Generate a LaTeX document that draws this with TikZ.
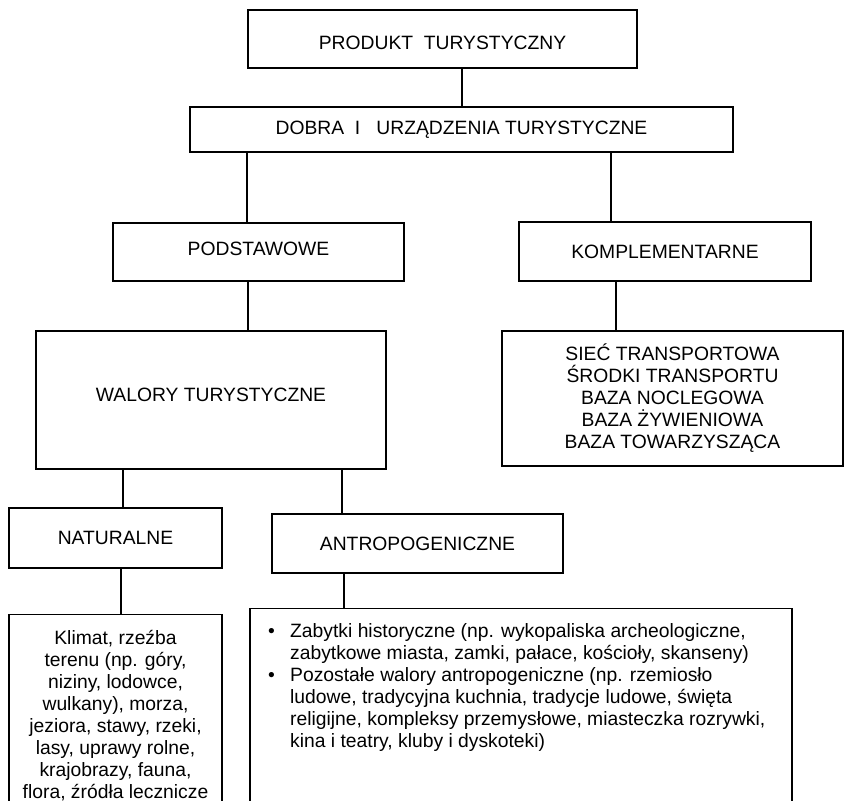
\documentclass[tikz,border=0pt]{standalone}
\usepackage{fontspec}
\setmainfont{Liberation Sans}
\begin{document}
\begin{tikzpicture}[x=1pt,y=-1pt,
  box/.style={draw, line width=1.3pt, rectangle, inner sep=0pt, align=center},
  conn/.style={line width=1.3pt},
  txt/.style={inner sep=0pt},
  every node/.style={font=\fontsize{19.3}{22}\selectfont}]
\useasboundingbox (0,0) rectangle (844,801);
\clip (0,0) rectangle (844,801);
\fill[white] (0,0) rectangle (844,801);

% boxes
\node[box, minimum width=389pt, minimum height=58pt, text height=21.8pt] (prod) at (442.5,39) {PRODUKT\ \ TURYSTYCZNY};
\node[box, minimum width=543pt, minimum height=45pt] (dobra) at (461.5,129.5) {DOBRA\ \ I\ \ \ URZĄDZENIA TURYSTYCZNE};
\node[box, minimum width=291pt, minimum height=58pt, text depth=6pt] (podst) at (258.5,252) {PODSTAWOWE};
\node[box, minimum width=292pt, minimum height=59pt] (kompl) at (665,251.5) {KOMPLEMENTARNE};
\node[box, minimum width=350pt, minimum height=138pt, text depth=10pt] (walory) at (211,400) {WALORY TURYSTYCZNE};
\node[box, minimum width=341pt, minimum height=135pt] (klist) at (672.5,398.5)
  {SIEĆ TRANSPORTOWA\\ŚRODKI TRANSPORTU\\BAZA NOCLEGOWA\\BAZA ŻYWIENIOWA\\BAZA TOWARZYSZĄCA};
\node[box, minimum width=213pt, minimum height=60pt] (natur) at (115.5,538) {NATURALNE};
\node[box, minimum width=291pt, minimum height=59pt] (antro) at (417.5,543.5) {ANTROPOGENICZNE};
\node[box, minimum width=213pt, minimum height=220pt, anchor=north] (klimat) at (115.5,614) {};
\node[box, minimum width=542pt, minimum height=220pt, anchor=north] (alist) at (521,608) {};

% texts of the open boxes
\node[txt, anchor=north, align=center] (klimattxt) at (115.5,630)
  {Klimat, rzeźba\\terenu (np. góry,\\niziny, lodowce,\\wulkany), morza,\\jeziora, stawy, rzeki,\\lasy, uprawy rolne,\\krajobrazy, fauna,\\flora, źródła lecznicze};
\node[txt, anchor=north west, align=left] (alisttxt) at (268,622)
  {\begin{tabular}{@{}l@{}l@{}}
   \makebox[22pt][l]{\textbullet} & Zabytki historyczne (np. wykopaliska archeologiczne,\\
   & zabytkowe miasta, zamki, pałace, kościoły, skanseny)\\
   \makebox[22pt][l]{\textbullet} & Pozostałe walory antropogeniczne (np. rzemiosło\\
   & ludowe, tradycyjna kuchnia, tradycje ludowe, święta\\
   & religijne, kompleksy przemysłowe, miasteczka rozrywki,\\
   & kina i teatry, kluby i dyskoteki)
   \end{tabular}};

% connectors
\draw[conn] (462,0 |- prod.south) -- (462,0 |- dobra.north);
\draw[conn] (247,0 |- dobra.south) -- (247,0 |- podst.north);
\draw[conn] (611,0 |- dobra.south) -- (611,0 |- kompl.north);
\draw[conn] (248,0 |- podst.south) -- (248,0 |- walory.north);
\draw[conn] (616,0 |- kompl.south) -- (616,0 |- klist.north);
\draw[conn] (123,0 |- walory.south) -- (123,0 |- natur.north);
\draw[conn] (342,0 |- walory.south) -- (342,0 |- antro.north);
\draw[conn] (121,0 |- natur.south) -- (121,0 |- klimat.north);
\draw[conn] (344,0 |- antro.south) -- (344,0 |- alist.north);
\end{tikzpicture}
\end{document}
